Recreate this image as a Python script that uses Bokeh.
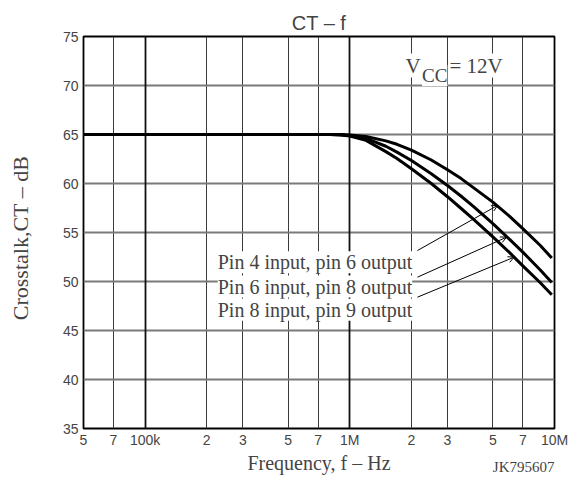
from bokeh.plotting import figure
from bokeh.models import FixedTicker, Label, Arrow, OpenHead, Grid, Range1d, Title
from bokeh.embed import file_html
from bokeh.resources import INLINE

# ---- data ----
freq_hz = [5e4, 1e5, 2e5, 5e5, 8e5, 9e5, 1e6, 1.2e6, 1.5e6, 1.7e6, 2e6, 2.5e6, 3e6, 3.5e6, 4e6, 5e6, 6e6, 7e6, 8.5e6, 9.7e6]
ct_pin4_pin6 = [65, 65, 65, 65, 65, 65, 64.95, 64.8, 64.35, 64.0, 63.4, 62.4, 61.4, 60.5, 59.6, 58.1, 56.7, 55.4, 53.7, 52.4]
ct_pin6_pin8 = [65, 65, 65, 65, 65, 64.97, 64.9, 64.6, 63.8, 63.2, 62.35, 61.0, 59.8, 58.7, 57.7, 55.9, 54.35, 53.0, 51.2, 49.9]
ct_pin8_pin9 = [65, 65, 65, 65, 65, 64.95, 64.85, 64.4, 63.25, 62.55, 61.5, 60.0, 58.65, 57.45, 56.4, 54.55, 53.0, 51.6, 49.9, 48.65]

x_ticks = [5e4, 7e4, 1e5, 2e5, 3e5, 5e5, 7e5, 1e6, 2e6, 3e6, 5e6, 7e6, 1e7]
x_tick_labels = ["5", "7", "100k", "2", "3", "5", "7", "1M", "2", "3", "5", "7", "10M"]
decade_ticks = [1e5, 1e6, 1e7]
y_ticks = [35, 40, 45, 50, 55, 60, 65, 70, 75]

series_labels = ["Pin 4 input, pin 6 output", "Pin 6 input, pin 8 output", "Pin 8 input, pin 9 output"]
title_text = "CT \u2013 f"
x_title = "Frequency, f \u2013 Hz"
y_title = "Crosstalk,CT \u2013 dB"
doc_id = "JK795607"

SANS = "Liberation Sans"
SERIF = "Liberation Serif"

p = figure(width=571, height=477, x_axis_type="log",
           x_range=Range1d(5e4, 1e7), y_range=Range1d(35, 75),
           output_backend="svg", toolbar_location=None,
           min_border_left=83, min_border_right=17, min_border_top=36, min_border_bottom=49)

p.title.text = title_text
p.title.text_font = SANS
p.title.text_font_style = "normal"
p.title.text_font_size = "20px"
p.title.align = "center"
p.title.standoff = 6
p.title.offset = 0

p.outline_line_color = "black"
p.outline_line_width = 1.8
p.background_fill_color = "white"
p.border_fill_color = "white"

# x axis
xa = p.xaxis[0]
xa.ticker = FixedTicker(ticks=x_ticks)
xa.major_label_overrides = {t: lab for t, lab in zip(x_ticks, x_tick_labels)}
xa.major_label_text_font = SANS
xa.major_label_text_font_size = "14px"
xa.major_label_standoff = 3
xa.major_tick_out = 0
xa.major_tick_in = 0
xa.minor_tick_out = 0
xa.minor_tick_in = 0
xa.major_tick_line_color = None
xa.minor_tick_line_color = None
xa.axis_line_color = None
xa.axis_label = x_title
xa.axis_label_text_font = SERIF
xa.axis_label_text_font_style = "normal"
xa.axis_label_text_font_size = "20px"
xa.axis_label_standoff = 1

# y axis
ya = p.yaxis[0]
ya.ticker = FixedTicker(ticks=y_ticks)
ya.major_label_text_font = SANS
ya.major_label_text_font_size = "14px"
ya.major_label_standoff = 5
ya.major_tick_out = 0
ya.major_tick_in = 0
ya.minor_tick_out = 0
ya.minor_tick_in = 0
ya.major_tick_line_color = None
ya.minor_tick_line_color = None
ya.axis_line_color = None
ya.axis_label = y_title + "\u00a0\u00a0"
ya.axis_label_text_font = SERIF
ya.axis_label_text_font_style = "normal"
ya.axis_label_text_font_size = "22px"
ya.axis_label_standoff = 27

# document id, right-aligned under the axis title
p.add_layout(Title(text=doc_id, align="right", vertical_align="top", standoff=-36,
                   text_font=SERIF, text_font_style="normal", text_font_size="15px"), "below")

# grids
p.xgrid.ticker = FixedTicker(ticks=x_ticks)
p.xgrid.grid_line_color = "#3a3a3a"
p.xgrid.grid_line_width = 1
p.ygrid.ticker = FixedTicker(ticks=y_ticks)
p.ygrid.grid_line_color = "#7a7a7a"
p.ygrid.grid_line_width = 1.8
dec_grid = Grid(dimension=0, ticker=FixedTicker(ticks=decade_ticks),
                grid_line_color="#111111", grid_line_width=1.8)
p.add_layout(dec_grid)

# curves
for ys in (ct_pin4_pin6, ct_pin6_pin8, ct_pin8_pin9):
    p.line(freq_hz, ys, line_color="black", line_width=3, line_join="round")

def slabel(x, y, text, **kw):
    # x, y: pixels from the frame's lower-left corner
    opts = dict(x=x, y=y, x_units="screen", y_units="screen", text=text)
    opts.update(kw)
    p.add_layout(Label(**opts))

# annotation texts
for lab, yv in zip(series_labels, [166.3, 142, 118.7]):
    slabel(328.7, yv, lab, text_align="right", text_baseline="alphabetic",
           text_font=SERIF, text_font_size="20px",
           background_fill_color="white", background_fill_alpha=1.0)

# leader arrows
arrow_start = [(2.14e6, 53.16), (2.14e6, 50.44), (2.14e6, 48.4)]
arrow_end = [(5.27e6, 57.76), (5.83e6, 54.52), (6.35e6, 52.48)]
for (x0, y0), (x1, y1) in zip(arrow_start, arrow_end):
    p.add_layout(Arrow(end=OpenHead(size=6, line_width=1, line_color="black"),
                       x_start=x0, y_start=y0, x_end=x1, y_end=y1,
                       line_color="black", line_width=1))

# V_CC = 12V
slabel(322, 363, "V", text_font=SERIF, text_font_size="21px",
       text_baseline="alphabetic", background_fill_color="white")
slabel(338.5, 353, "CC", text_font=SERIF, text_font_size="19px",
       text_baseline="alphabetic", background_fill_color="white")
slabel(366, 363, "= 12V", text_font=SERIF, text_font_size="21px",
       text_baseline="alphabetic", background_fill_color="white")

open("out.html", "w").write(file_html(p, INLINE))
